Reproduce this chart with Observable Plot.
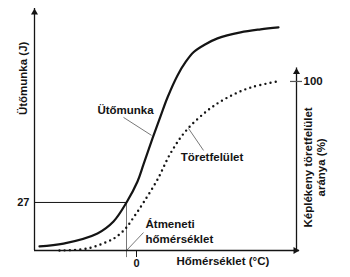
<!DOCTYPE html>
<html><head><meta charset="utf-8">
<script src="https://cdn.jsdelivr.net/npm/d3@7"></script>
<script src="https://cdn.jsdelivr.net/npm/@observablehq/plot@0.6"></script>
<style>
html,body{margin:0;padding:0;background:#fff;}
#chart svg{display:block;}
</style></head><body><div id="chart"></div>
<script>
// Ütőmunka (J) vs hőmérséklet (°C)
const impactTemp   = [-97, -73, -39, -23, -10, 1, 7, 16, 24, 31, 41, 49, 57, 69, 81, 104, 124, 142];
const impactEnergy = [2.3, 3.9, 9.6, 16.3, 27, 38.8, 48.4, 63, 75.4, 86, 98.4, 105.8, 111.4, 115.9, 119.2, 122.6, 124.3, 125.4];
// Képlékeny töretfelület aránya (%) vs hőmérséklet (°C)
const fractureTemp = [-77, -49, -29, -21, -11, -3, 7, 21, 34, 49, 71, 91, 114, 141];
const ductileShare = [0, 1.2, 5.3, 7.7, 13, 19.5, 28.4, 42, 57.5, 70.5, 82.8, 90.5, 96.4, 100];

const transitionTemp = -10;
const transitionEnergy = 27;
const xTicks = [0];
const leftTicks = [27];
const rightTicks = [100];
const pctToJ = 0.95;          // right-axis (%) to left-axis (J) ratio
const xDomain = [-102, 160];
const yDomain = [0, 136];
const rightAxisTop = 108;     // %

const impact = impactTemp.map((t, i) => ({t, e: impactEnergy[i]}));
const fracture = fractureTemp.map((t, i) => ({t, e: ductileShare[i] * pctToJ}));

const centeredLabels = [
  {text: "Ütőmunka", t: -11, e: 78.75},
  {text: "Töretfelület", t: 75.5, e: 52.3}
];
const startLabels = [
  {text: "Átmeneti", t: 9, e: 14.6},
  {text: "hőmérséklet", t: 9, e: 6.2},
  {text: "Hőmérséklet (°C)", t: 40, e: -6.2}
];
const leaders = [
  {t1: -13, e1: 74.8, t2: 15, e2: 64.7},
  {t1: 52, e1: 68.6, t2: 67, e2: 56.25},
  {t1: transitionTemp, e1: 0, t2: 7, e2: 10.1}
];

const ink = "#141414";
const font = "'Liberation Sans', Arial, sans-serif";

const chart = Plot.plot({
  width: 350, height: 277,
  marginLeft: 34, marginRight: 54, marginTop: 8, marginBottom: 27,
  x: {domain: xDomain, axis: null},
  y: {domain: yDomain, axis: null},
  style: {fontFamily: font, fontWeight: "bold", fontSize: "11.5px", color: ink, background: "#fff", overflow: "visible"},
  marks: [
    // guides for transition temperature
    Plot.ruleY([transitionEnergy], {x1: xDomain[0], x2: transitionTemp, stroke: ink, strokeWidth: 1}),
    Plot.ruleX([transitionTemp], {y1: transitionEnergy, y2: -4, stroke: "#777", strokeWidth: 1}),
    // leaders
    Plot.link(leaders, {x1: "t1", y1: "e1", x2: "t2", y2: "e2", stroke: "#555", strokeWidth: 0.8}),
    // axes lines
    Plot.ruleX([xDomain[0]], {y1: 0, y2: yDomain[1], stroke: ink, strokeWidth: 1.3}),
    Plot.ruleX([xDomain[1]], {y1: 0, y2: rightAxisTop * pctToJ, stroke: ink, strokeWidth: 1.3}),
    Plot.ruleY([0], {x1: xDomain[0], x2: xDomain[1] + 3, stroke: ink, strokeWidth: 1.3}),
    Plot.dot([{t: xDomain[0], e: yDomain[1]}], {x: "t", y: "e", symbol: "triangle", r: 2.6, fill: ink, stroke: null, dy: 4}),
    Plot.dot([{t: xDomain[1], e: rightAxisTop * pctToJ}], {x: "t", y: "e", symbol: "triangle", r: 2.6, fill: ink, stroke: null, dy: 4}),
    Plot.dot([{t: xDomain[1] + 3, e: 0}], {x: "t", y: "e", symbol: "triangle", r: 2.6, fill: ink, stroke: null, rotate: 90, dx: -4}),
    // ticks
    Plot.axisX(xTicks, {tickSize: 7, tickPadding: 2, stroke: ink, fontSize: 11, fontWeight: "bold", tickFormat: d => String(d)}),
    Plot.axisY(leftTicks, {anchor: "left", tickSize: 0, tickPadding: 5, fontSize: 11, fontWeight: "bold", tickFormat: d => String(d)}),
    Plot.ruleY(rightTicks, {y: d => d * pctToJ, x1: xDomain[1] - 6, x2: xDomain[1] + 6, stroke: "#555", strokeWidth: 1.2}),
    Plot.text(rightTicks, {y: d => d * pctToJ, x: xDomain[1] + 6, text: d => String(d), textAnchor: "start", dx: 1, fontSize: 11.5, fill: ink}),
    // curves
    Plot.line(fracture, {x: "t", y: "e", stroke: ink, strokeWidth: 2.4, strokeDasharray: "0,5.2", strokeLinecap: "round", curve: "catmull-rom"}),
    Plot.line(impact, {x: "t", y: "e", stroke: ink, strokeWidth: 2.2, curve: "catmull-rom"}),
    // labels
    Plot.text(centeredLabels, {x: "t", y: "e", text: "text", textAnchor: "middle", fill: ink}),
    Plot.text(startLabels, {x: "t", y: "e", text: "text", textAnchor: "start", fill: ink}),
    Plot.text(["Ütőmunka (J)"], {x: -113, y: 96.75, text: d => d, rotate: -90, fill: ink}),
    Plot.text(["Képlékeny töretfelület\naránya (%)"], {x: 178, y: 46.7, text: d => d, rotate: -90, lineHeight: 1.1, fill: ink})
  ]
});
document.getElementById("chart").appendChild(chart);
</script></body></html>
